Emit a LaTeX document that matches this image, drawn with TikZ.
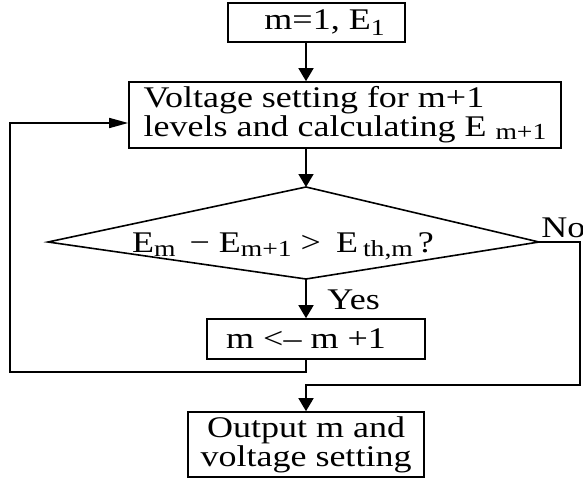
\documentclass[tikz,border=0pt]{standalone}
\usepackage{fontspec}
\setmainfont{Liberation Serif}[FakeStretch=1.2]
\usetikzlibrary{arrows.meta,positioning}
\newcommand\lsub[2][2pt]{\raisebox{-#1}{\fontsize{11.5}{11.5}\selectfont #2}}
\tikzset{box/.style={draw,line width=0.8pt,align=center,font=\fontsize{15}{14.5}\selectfont,inner sep=0pt,minimum height=#1},
  box/.default=20pt,
  lbl/.style={font=\fontsize{15}{14.5}\selectfont,inner sep=0pt},
  lnk/.style={line width=0.8pt},
  arr/.style={lnk,-{Triangle[length=6.5pt,width=7.5pt]}},
  arrh/.style={lnk,-{Triangle[length=9.5pt,width=5pt]}}}

\begin{document}
\begin{tikzpicture}[x=0.5pt,y=-0.5pt]
\useasboundingbox (0,0) rectangle (583,481);
\node[box=19.5pt,minimum width=88.5pt] (init) at (316.5,22.5) {\hspace*{8pt}m=1, E\lsub[3pt]{1}};
\node[box=33pt,minimum width=216pt,align=left] (volt) at (345,115) {Voltage setting for m+1\\ levels and calculating E \lsub[1.5pt]{m+1}};
% decision diamond
\coordinate (dtop) at (306,187);
\coordinate (dright) at (539,242);
\coordinate (dbot) at (306,279);
\coordinate (dleft) at (48,242);
\draw[lnk] (dtop) -- (dright) -- (dbot) -- (dleft) -- cycle;
\node[lbl] (test) at (283,246) {E\lsub{m}\, − E\lsub{m+1} >\enspace E\,\lsub{th,m}\,?};
\node[box=20pt,minimum width=109pt] (inc) at (316,339) {m <– m +1\hspace*{10pt}};
\node[box=32.5pt,minimum width=118pt] (out) at (306,444.5) {Output m and\\ voltage setting};
\node[lbl,anchor=west] (yes) at (327,300) {Yes};
\node[lbl,anchor=west] (no) at (541,228) {No};
% loop and exit lines
\coordinate (loopl) at (10,372);
\coordinate (loopt) at (10,123);
\coordinate (noc) at (580,385);
\draw[arr] (init.south -| dtop) -- (volt.north -| dtop);
\draw[arr] (volt.south -| dtop) -- (dtop);
\draw[arr] (dbot) -- (inc.north -| dbot);
\draw[arrh] (inc.south -| dbot) |- (loopl) -- (loopt) -- (volt.west |- loopt);
\draw[arr] (dright) -| (noc) -| (out.north);
\end{tikzpicture}
\end{document}
